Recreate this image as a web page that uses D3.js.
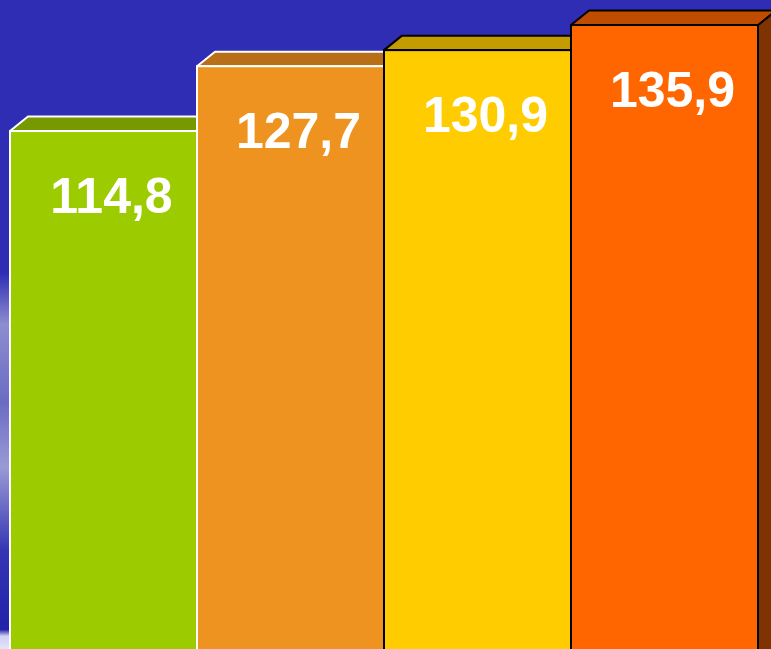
<!DOCTYPE html>
<html lang="en">
<head>
<meta charset="utf-8">
<title>Bars</title>
<style>
  html, body { margin: 0; padding: 0; background: #2e2db4; overflow: hidden; }
  svg { display: block; }
  .label {
    font: bold 50px "Liberation Sans", Arial, sans-serif;
    fill: #fff;
    text-anchor: middle;
  }
</style>
</head>
<body>
<svg id="vis" width="771" height="649"></svg>
<script src="https://cdn.jsdelivr.net/npm/d3@7/dist/d3.min.js"></script>
<script>
  // values
  var categories = ["1", "2", "3", "4"];
  var values = [114.8, 127.7, 130.9, 135.9];
  var labels = ["114,8", "127,7", "130,9", "135,9"];

  var frontColors = ["#9ccc00", "#ee931f", "#ffcc00", "#ff6600"];
  var topColors = ["#779900", "#b87018", "#c49c00", "#c04c00"];
  var sideColors = ["#5a7300", "#8a5410", "#947400", "#7f3300"];
  var strokeColors = ["#fff", "#fff", "#000", "#000"];

  var svg = d3.select("svg"),
      width = +svg.attr("width"),
      height = +svg.attr("height"),
      depthX = 18,
      depthY = 14.5;

  var x = d3.scaleBand()
      .domain(categories)
      .range([10, 758])
      .paddingInner(0);

  // baseline sits below the visible area
  var y = d3.scaleLinear()
      .domain([0, d3.max(values)])
      .range([708, 25]);

  // background with the light strip on the left edge
  var defs = svg.append("defs");
  var grad = defs.append("linearGradient")
      .attr("id", "edge")
      .attr("x1", 0).attr("y1", 0).attr("x2", 0).attr("y2", 1);
  [[0, "#2e2db4"], [0.42, "#2e2db4"], [0.5, "#8d8dd0"], [0.62, "#6b6bc4"], [0.72, "#9a9ad6"],
   [0.85, "#3434b4"], [0.97, "#2222aa"], [0.98, "#d0d0f2"], [1, "#e4e4f8"]].forEach(function(s) {
    grad.append("stop").attr("offset", s[0]).attr("stop-color", s[1]);
  });

  svg.append("rect")
      .attr("width", width).attr("height", height)
      .attr("fill", "#2e2db4");
  svg.append("rect")
      .attr("width", 12).attr("height", height)
      .attr("fill", "url(#edge)");

  var data = categories.map(function(c, i) {
    return { cat: c, value: values[i], label: labels[i], i: i };
  });

  var bar = svg.selectAll("g.bar")
    .data(data)
    .enter().append("g")
      .attr("class", "bar");

  // right side face
  bar.append("path")
      .attr("fill", function(d) { return sideColors[d.i]; })
      .attr("stroke", function(d) { return strokeColors[d.i]; })
      .attr("stroke-width", 2)
      .attr("stroke-linejoin", "round")
      .attr("d", function(d) {
        var x1 = x(d.cat) + x.bandwidth(), t = y(d.value), b = y(0);
        return "M" + x1 + "," + t + "L" + (x1 + depthX) + "," + (t - depthY) +
               "L" + (x1 + depthX) + "," + (b - depthY) + "L" + x1 + "," + b + "Z";
      });

  // top face
  bar.append("path")
      .attr("fill", function(d) { return topColors[d.i]; })
      .attr("stroke", function(d) { return strokeColors[d.i]; })
      .attr("stroke-width", 2)
      .attr("stroke-linejoin", "round")
      .attr("d", function(d) {
        var x0 = x(d.cat), x1 = x0 + x.bandwidth(), t = y(d.value);
        return "M" + x0 + "," + t + "L" + (x0 + depthX) + "," + (t - depthY) +
               "L" + (x1 + depthX) + "," + (t - depthY) + "L" + x1 + "," + t + "Z";
      });

  // front face
  bar.append("rect")
      .attr("x", function(d) { return x(d.cat); })
      .attr("y", function(d) { return y(d.value); })
      .attr("width", x.bandwidth())
      .attr("height", function(d) { return y(0) - y(d.value); })
      .attr("fill", function(d) { return frontColors[d.i]; })
      .attr("stroke", function(d) { return strokeColors[d.i]; })
      .attr("stroke-width", 2);

  bar.append("text")
      .attr("class", "label")
      .attr("x", function(d) { return x(d.cat) + x.bandwidth() / 2 + 8; })
      .attr("y", function(d) { return y(d.value) + 82; })
      .text(function(d) { return d.label; });
</script>
</body>
</html>
